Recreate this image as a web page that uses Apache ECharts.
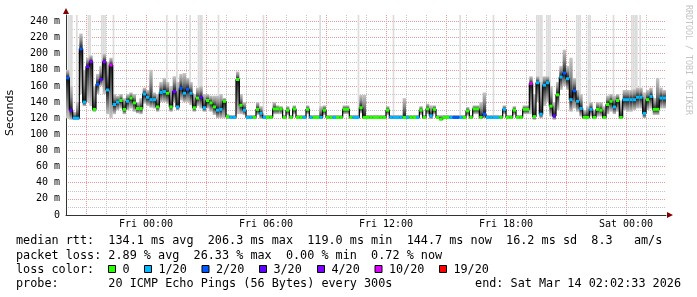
<!DOCTYPE html>
<html><head><meta charset="utf-8">
<script src="https://cdn.jsdelivr.net/npm/echarts@6/dist/echarts.min.js"></script>
<style>html,body{margin:0;padding:0;background:#fff}#c{width:697px;height:297px}</style>
</head><body><div id="c"></div>
<script>
// ---- data (10-minute steps, starting Thu 20:00 = -4 h relative to Fri 00:00) ----
const startHour = -4;
const stepHours = 10 / 60;
const median = [
 170,130,120,120,206,140,184,190,131,162,
 168,190,155,186,137,140,142,131,141,145,
 139,132,132,150,146,143,143,134,152,153,
 151,134,153,134,157,151,156,151,133,145,
 146,133,142,139,134,130,131,141,122,121,
 121,168,136,130,121,121,121,131,126,121,
 121,121,131.5,131.5,131.5,121,130,121,131.5,121,
 121,121,131,121,121,121,121,130,121,121,
 121,121,121,131,131,121,121,121,133,121,
 121,121,121,121,121,121,130,121,121,121,
 121,121,121,121,121,121,130,121,131.5,123,
 131,121,119,121,121,121,121,121,121,121,
 129,121,131.5,131.5,121,125,121,121,121,121,
 121,131,121,121,130,121,121,131,131,163,
 122,164,125,161,164,135,123,149,171,176,
 169,143,154,141,132,121,121,131,121,131,
 130,121,137,141,134,142,121,143,143,143,
 143,146,146,126,143,147,131,131,145,145];
const lossPings = [
 2,3,1,1,2,1,3,4,0,2,
 3,4,1,5,1,1,0,0,1,0,
 0,0,0,1,1,1,1,0,1,1,
 0,0,3,1,2,1,2,1,0,0,
 3,1,0,0,0,1,1,0,0,1,
 1,0,0,1,1,1,0,0,1,1,
 0,0,0,0,0,0,0,0,0,0,
 0,1,0,1,0,0,1,0,0,0,
 1,0,0,0,0,0,1,1,0,0,
 0,0,0,0,0,0,0,1,1,1,
 1,0,1,0,0,1,0,0,0,1,
 0,0,0,0,0,1,2,2,1,0,
 0,0,0,0,0,2,1,1,1,1,
 0,1,0,0,0,0,0,0,0,5,
 0,1,1,1,1,0,3,0,1,2,
 1,1,2,1,1,0,0,1,0,0,
 0,0,0,0,1,0,0,1,1,1,
 1,1,1,1,0,1,0,0,1,1];
const smokeLo = [
 120,118,118,118,150,135,140,135,128,150,
 160,150,125,120,125,130,132,125,130,132,
 128,126,125,138,135,133,132,128,140,140,
 138,128,140,130,142,140,140,136,128,135,
 132,128,132,128,124,120,120,120,119,119,
 119,125,125,124,119,119,119,124,119,119,
 119,119,125,125,125,119,124,119,125,119,
 119,119,125,119,119,119,119,124,119,119,
 119,119,119,125,125,119,119,119,126,119,
 119,119,119,119,119,119,124,119,119,119,
 119,119,119,119,119,119,124,119,125,119,
 125,119,117,119,119,119,119,119,119,119,
 123,119,125,125,119,120,119,119,119,119,
 119,125,119,119,124,119,119,125,125,125,
 118,140,120,135,140,122,118,130,155,160,
 155,128,132,128,122,119,119,122,119,122,
 122,119,125,128,125,128,119,130,128,128,
 130,132,132,120,130,132,124,124,132,132];
const smokeHi = [
 180,160,128,140,225,180,195,198,160,175,
 185,200,190,195,150,148,150,145,150,152,
 150,140,145,158,155,180,152,150,165,170,
 165,160,172,165,175,176,170,165,150,158,
 160,150,150,148,148,148,150,145,125,124,
 124,178,150,140,124,124,124,140,135,124,
 124,124,140,136,135,124,135,124,136,124,
 124,124,136,124,124,124,135,136,124,124,
 124,124,124,136,136,124,124,124,149,149,
 124,124,124,124,124,124,135,124,124,124,
 124,145,124,124,124,124,135,124,138,136,
 136,124,124,124,124,124,124,124,124,124,
 134,124,136,136,140,152,124,124,124,124,
 124,136,124,124,135,124,124,136,136,172,
 150,172,165,172,172,160,140,165,185,205,
 185,195,170,155,150,130,135,140,130,140,
 140,135,148,150,148,150,142,155,155,155,
 156,158,158,152,155,158,145,170,158,155];
// 5-minute steps whose slowest ping is off the top of the scale
const overflowSteps = [1,2,3,6,13,14,21,22,23,28,60,66,74,79,80,81,91,118,152,175,196,236,256,
 282,283,284,285,288,289,290,306,307,308,313,314,328,339,340,341,342,344];
const overflowPeak = 300;
const xTickHours = [0, 6, 12, 18, 24];
const xTickLabels = ['Fri 00:00', 'Fri 06:00', 'Fri 12:00', 'Fri 18:00', 'Sat 00:00'];
const lossLevels = [0, 1, 2, 3, 4, 10, 19];
const lossLabels = ['0', '1/20', '2/20', '3/20', '4/20', '10/20', '19/20'];
const lossColors = ['#26ff00', '#00b8ff', '#0059ff', '#5e00ff', '#7e00ff', '#dd00ff', '#ff0000'];
const statsLines = [
 'median rtt:  134.1 ms avg  206.3 ms max  119.0 ms min  144.7 ms now  16.2 ms sd  8.3   am/s',
 'packet loss: 2.89 % avg  26.33 % max  0.00 % min  0.72 % now',
 'loss color:',
 'probe:       20 ICMP Echo Pings (56 Bytes) every 300s'
];
const endText = 'end: Sat Mar 14 02:02:33 2026';

// ---- chart ----
const MONO = 'DejaVu Sans Mono';
function lossColor(p) {
  for (let k = 0; k < lossLevels.length; k++) if (p <= lossLevels[k]) return lossColors[k];
  return lossColors[lossColors.length - 1];
}
const tOf = i => startHour + i * stepHours;
const medianPts = median.map((m, i) => [tOf(i), m]);
medianPts.push([tOf(median.length), median[median.length - 1]]);
const smokeData = median.map((m, i) => [tOf(i), smokeLo[i], smokeHi[i], m]);
const segData = median.map((m, i) => [tOf(i), m, lossPings[i]]);
const overflowData = overflowSteps.map(j => [startHour + j * 5 / 60, median[Math.floor(j / 2)], overflowPeak]);

const chart = echarts.init(document.getElementById('c'), null, {renderer: 'canvas'});

const graphic = [];
graphic.push({type: 'text', x: 10, y: 113, rotation: Math.PI / 2,
  style: {text: 'Seconds', fontFamily: 'DejaVu Sans', fontSize: 11, fill: '#000', align: 'center', verticalAlign: 'middle'}});
graphic.push({type: 'text', x: 688, y: 60, rotation: -Math.PI / 2,
  style: {text: 'RRDTOOL / TOBI OETIKER', fontFamily: MONO, fontSize: 8.3, fill: '#c4c4c4', align: 'center', verticalAlign: 'middle'}});
graphic.push({type: 'polygon', shape: {points: [[667, 212], [673, 215], [667, 218]]}, style: {fill: '#800000'}});
graphic.push({type: 'polygon', shape: {points: [[63, 14], [66, 8], [69, 14]]}, style: {fill: '#800000'}});
const lineY = [241, 255.5, 269.5, 284];
statsLines.forEach((s, k) => graphic.push({type: 'text', x: 16, y: lineY[k],
  style: {text: s, fontFamily: MONO, fontSize: 11.8, fill: '#000', verticalAlign: 'middle'}}));
graphic.push({type: 'text', x: 681, y: lineY[3],
  style: {text: endText, fontFamily: MONO, fontSize: 11.8, fill: '#000', align: 'right', verticalAlign: 'middle'}});
const boxX = [108, 144, 201.5, 259, 317, 374.5, 439];
lossLabels.forEach((lab, k) => {
  graphic.push({type: 'rect', shape: {x: boxX[k] + 0.5, y: 265.5, width: 7, height: 7},
    style: {fill: lossColors[k], stroke: '#000', lineWidth: 1}});
  graphic.push({type: 'text', x: boxX[k] + 14.4, y: lineY[2],
    style: {text: lab, fontFamily: MONO, fontSize: 11.8, fill: '#000', verticalAlign: 'middle'}});
});

const minorGrid = '#c4c4c4';
const majorGrid = '#e89a9a';
const hidden = {axisLine: {show: false}, axisTick: {show: false}, axisLabel: {show: false}};
chart.setOption({
  animation: false,
  backgroundColor: '#fff',
  grid: [
    {left: 66, top: 15, width: 600, height: 200},
    {left: 26, top: 15, width: 600, height: 200}   // same scale, shifted so that 3-hour lines start from a multiple of 3
  ],
  xAxis: [
    {
      type: 'value', gridIndex: 0, min: -4, max: 26, interval: 1, z: 0,
      axisLine: {show: true, onZero: false, lineStyle: {color: '#333', width: 1}},
      axisTick: {show: false},
      axisLabel: {
        interval: 0, margin: 4, fontFamily: MONO, fontSize: 10, color: '#000',
        formatter: v => { const k = xTickHours.indexOf(Math.round(v * 1000) / 1000); return k >= 0 ? xTickLabels[k] : ''; }
      },
      splitLine: {show: true, showMinLine: false, showMaxLine: false, lineStyle: {color: minorGrid, type: [1, 1], width: 1}}
    },
    Object.assign({
      type: 'value', gridIndex: 1, min: -6, max: 24, interval: 3, z: 1,
      splitLine: {show: true, showMinLine: false, showMaxLine: true, lineStyle: {color: majorGrid, type: [1, 1], width: 1}}
    }, hidden)
  ],
  yAxis: [
    {
      type: 'value', gridIndex: 0, min: 0, max: 248, interval: 20, z: 1,
      axisLine: {show: true, onZero: false, lineStyle: {color: '#333', width: 1}},
      axisTick: {show: false},
      axisLabel: {
        margin: 6, fontFamily: MONO, fontSize: 10, color: '#000',
        formatter: v => (v % 20 === 0 && v <= 240 ? (v === 0 ? '0' : v + ' m') : '')
      },
      splitLine: {show: true, showMinLine: false, showMaxLine: false, lineStyle: {color: majorGrid, type: [1, 1], width: 1}}
    },
    Object.assign({
      type: 'value', gridIndex: 0, min: 0, max: 248, interval: 10, z: 0, position: 'left',
      splitLine: {show: true, showMinLine: false, showMaxLine: false, lineStyle: {color: minorGrid, type: [1, 1], width: 1}}
    }, hidden),
    Object.assign({type: 'value', gridIndex: 1, min: 0, max: 248, splitLine: {show: false}}, hidden)
  ],
  graphic: graphic,
  series: [
    {
      type: 'custom', name: 'overflow', clip: true, z: 1, xAxisIndex: 0, yAxisIndex: 0,
      data: overflowData,
      renderItem: (params, api) => {
        const t = api.value(0);
        const top = api.coord([t, api.value(2)]);
        const bot = api.coord([t, api.value(1)]);
        const w = api.size([5 / 60, 0])[0];
        return {type: 'rect', shape: {x: top[0], y: top[1], width: w, height: bot[1] - top[1]},
          style: {fill: '#dcdcdc'}};
      }
    },
    {
      type: 'custom', name: 'smoke', clip: true, z: 2, xAxisIndex: 0, yAxisIndex: 0,
      data: smokeData,
      renderItem: (params, api) => {
        const t = api.value(0);
        const lo = api.coord([t, api.value(1)]);
        const hi = api.coord([t, api.value(2)]);
        const md = api.coord([t, api.value(3)]);
        const w = api.size([stepHours, 0])[0];
        const h = lo[1] - hi[1];
        if (h <= 0) return null;
        let f = (md[1] - hi[1]) / h; f = Math.max(0.001, Math.min(0.999, f));
        return {type: 'rect', shape: {x: hi[0], y: hi[1], width: w, height: h},
          style: {fill: new echarts.graphic.LinearGradient(0, 0, 0, 1, [
            {offset: 0, color: '#c8c8c8'},
            {offset: f * 0.45, color: '#8a8a8a'},
            {offset: f, color: '#141414'},
            {offset: f + (1 - f) * 0.55, color: '#7a7a7a'},
            {offset: 1, color: '#c8c8c8'}])}};
      }
    },
    {
      type: 'line', name: 'median', step: 'end', showSymbol: false, symbol: 'none', z: 3,
      xAxisIndex: 0, yAxisIndex: 0,
      data: medianPts, lineStyle: {color: '#000', width: 1.2}
    },
    {
      type: 'custom', name: 'loss', clip: true, z: 4, xAxisIndex: 0, yAxisIndex: 0,
      data: segData,
      renderItem: (params, api) => {
        const t = api.value(0);
        const p = api.coord([t, api.value(1)]);
        const w = api.size([stepHours, 0])[0];
        return {type: 'rect', shape: {x: p[0], y: p[1] - 1.5, width: w, height: 3},
          style: {fill: lossColor(api.value(2))}};
      }
    }
  ]
});
</script></body></html>
